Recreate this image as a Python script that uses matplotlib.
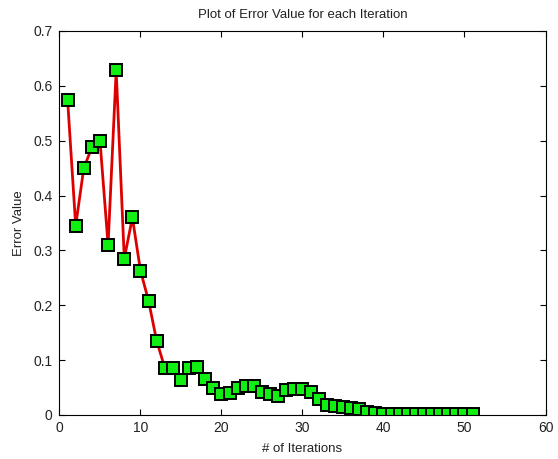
import matplotlib
matplotlib.use("Agg")
import matplotlib.pyplot as plt

iterations = list(range(1, 52))
error_values = [
    0.575, 0.345, 0.450, 0.488, 0.500, 0.310, 0.628, 0.285, 0.360, 0.263,
    0.208, 0.135, 0.086, 0.086, 0.064, 0.085, 0.088, 0.066, 0.050, 0.039,
    0.040, 0.050, 0.053, 0.052, 0.042, 0.038, 0.035, 0.045, 0.048, 0.047,
    0.042, 0.030, 0.018, 0.017, 0.015, 0.013, 0.010, 0.006, 0.003, 0.002,
    0.002, 0.002, 0.002, 0.002, 0.002, 0.002, 0.002, 0.002, 0.002, 0.002,
    0.002,
]
x_ticks = [0, 10, 20, 30, 40, 50, 60]
y_ticks = [0, 0.1, 0.2, 0.3, 0.4, 0.5, 0.6, 0.7]
y_tick_labels = ["0", "0.1", "0.2", "0.3", "0.4", "0.5", "0.6", "0.7"]

plt.rcParams['font.family'] = ['Liberation Sans', 'DejaVu Sans']
fig = plt.figure(figsize=(5.58, 4.59), dpi=100)
ax = fig.add_axes([0.1066, 0.0959, 0.871, 0.8366])
ax.plot(iterations, error_values, color='#dd0000', linewidth=2,
        marker='s', markersize=9, markerfacecolor='#11ee11',
        markeredgecolor='black', markeredgewidth=1.4)
ax.set_xlim(0, 60)
ax.set_ylim(0, 0.7)
ax.set_xticks(x_ticks)
ax.set_xticklabels([str(t) for t in x_ticks])
ax.set_yticks(y_ticks)
ax.set_yticklabels(y_tick_labels)
ax.tick_params(direction='in', top=True, right=True, labelsize=10,
               length=4, labelcolor='#222222')
ax.tick_params(axis='x', pad=4)
ax.tick_params(axis='y', pad=5)
ax.set_xlabel("# of Iterations", fontsize=9.5, labelpad=6, color='#222222')
ax.set_ylabel("Error Value", fontsize=9.5, labelpad=6, color='#222222')
ax.set_title("Plot of Error Value for each Iteration", fontsize=9.5, pad=9,
             color='#222222')
for s in ax.spines.values():
    s.set_linewidth(0.8)
fig.savefig("out.png", dpi=100)
